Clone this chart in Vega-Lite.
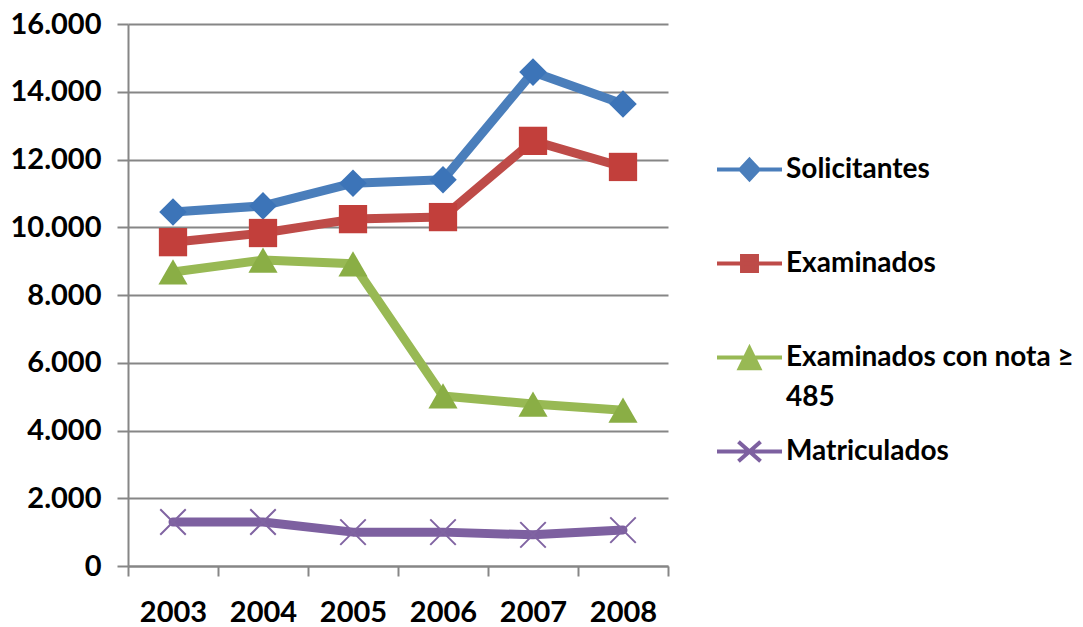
{
  "$schema": "https://vega.github.io/schema/vega-lite/v6.json",
  "width": 540,
  "height": 542,
  "autosize": {"type": "none"},
  "padding": {"left": 128, "top": 24, "right": 415, "bottom": 61},
  "background": "white",
  "config": {
    "view": {"stroke": null},
    "locale": {"number": {"decimal": ",", "thousands": ".", "grouping": [3], "currency": ["", " €"]}},
    "font": "Lato"
  },
  "data": {
    "values": [
      {"anio": "2003", "serie": "Solicitantes", "valor": 10450},
      {"anio": "2004", "serie": "Solicitantes", "valor": 10630},
      {"anio": "2005", "serie": "Solicitantes", "valor": 11300},
      {"anio": "2006", "serie": "Solicitantes", "valor": 11400},
      {"anio": "2007", "serie": "Solicitantes", "valor": 14580},
      {"anio": "2008", "serie": "Solicitantes", "valor": 13640},
      {"anio": "2003", "serie": "Examinados", "valor": 9560},
      {"anio": "2004", "serie": "Examinados", "valor": 9830},
      {"anio": "2005", "serie": "Examinados", "valor": 10240},
      {"anio": "2006", "serie": "Examinados", "valor": 10300},
      {"anio": "2007", "serie": "Examinados", "valor": 12550},
      {"anio": "2008", "serie": "Examinados", "valor": 11780},
      {"anio": "2003", "serie": "Examinados con nota ≥ 485", "valor": 8680},
      {"anio": "2004", "serie": "Examinados con nota ≥ 485", "valor": 9030},
      {"anio": "2005", "serie": "Examinados con nota ≥ 485", "valor": 8920},
      {"anio": "2006", "serie": "Examinados con nota ≥ 485", "valor": 5020},
      {"anio": "2007", "serie": "Examinados con nota ≥ 485", "valor": 4780},
      {"anio": "2008", "serie": "Examinados con nota ≥ 485", "valor": 4600},
      {"anio": "2003", "serie": "Matriculados", "valor": 1300},
      {"anio": "2004", "serie": "Matriculados", "valor": 1300},
      {"anio": "2005", "serie": "Matriculados", "valor": 1000},
      {"anio": "2006", "serie": "Matriculados", "valor": 1000},
      {"anio": "2007", "serie": "Matriculados", "valor": 920},
      {"anio": "2008", "serie": "Matriculados", "valor": 1060}
    ]
  },
  "encoding": {
    "x": {
      "field": "anio",
      "type": "ordinal",
      "bandPosition": 0.5,
      "scale": {"type": "band", "paddingInner": 0, "paddingOuter": 0},
      "axis": {
        "title": null,
        "labelAngle": 0,
        "labelFont": "Lato",
        "labelFontWeight": "bold",
        "labelFontSize": 29,
        "labelColor": "#000000",
        "labelPadding": 22,
        "tickBand": "extent",
        "tickSize": 10,
        "tickColor": "#868686",
        "tickWidth": 2,
        "domainColor": "#868686",
        "domainWidth": 2,
        "grid": false
      }
    },
    "y": {
      "field": "valor",
      "type": "quantitative",
      "scale": {"domain": [0, 16000], "nice": false},
      "axis": {
        "title": null,
        "values": [0, 2000, 4000, 6000, 8000, 10000, 12000, 14000, 16000],
        "format": ",.0f",
        "labelFont": "Lato",
        "labelFontWeight": "bold",
        "labelFontSize": 29,
        "labelColor": "#000000",
        "labelPadding": 16,
        "tickSize": 11,
        "tickColor": "#868686",
        "tickWidth": 2,
        "domainColor": "#868686",
        "domainWidth": 2,
        "grid": true,
        "gridColor": "#868686",
        "gridWidth": 2
      }
    }
  },
  "layer": [
    {
      "mark": {"type": "line", "strokeWidth": 9, "strokeJoin": "round", "strokeCap": "round"},
      "encoding": {
        "color": {
          "field": "serie",
          "type": "nominal",
          "scale": {
            "domain": ["Solicitantes", "Examinados", "Examinados con nota ≥ 485", "Matriculados"],
            "range": ["#4a7ebb", "#be4b48", "#98b954", "#7d60a0"]
          },
          "legend": {
            "title": null,
            "orient": "none",
            "legendX": 587,
            "legendY": 111,
            "gridAlign": "all",
            "rowPadding": 5,
            "labelFont": "Lato",
            "labelFontWeight": "bold",
            "labelFontSize": 28,
            "labelColor": "#000000",
            "labelOffset": 2,
            "labelLimit": 400,
            "symbolSize": 4225,
            "symbolStrokeWidth": 4,
            "labelExpr": "datum.label === 'Examinados con nota ≥ 485' ? ['Examinados con nota ≥', '485'] : datum.label",
            "encode": {
              "symbols": {
                "update": {
                  "shape": {"signal": "datum.value === 'Solicitantes' ? 'M-1,0L1,0M0,-0.3L0.28,0L0,0.3L-0.28,0Z' : datum.value === 'Examinados' ? 'M-1,0L1,0M-0.23,-0.23L0.23,-0.23L0.23,0.23L-0.23,0.23Z' : datum.value === 'Matriculados' ? 'M-1,0L1,0M-0.34,-0.3L0.34,0.3M-0.34,0.3L0.34,-0.3' : 'M-1,0L1,0M0,-0.28L0.3,0.33L-0.3,0.33Z'"},
                  "fill": {"signal": "scale('color', datum.value)"},
                  "fillOpacity": {"value": 1},
                  "stroke": {"signal": "scale('color', datum.value)"},
                  "strokeWidth": {"value": 4},
                  "opacity": {"value": 1}
                }
              },
              "labels": {
                "update": {"lineHeight": {"value": 40}}
              }
            }
          }
        }
      }
    },
    {
      "transform": [{"filter": {"field": "serie", "equal": "Solicitantes"}}],
      "mark": {"type": "point", "shape": "diamond", "filled": true, "opacity": 1, "size": 760, "color": "#3c74b8"}
    },
    {
      "transform": [{"filter": {"field": "serie", "equal": "Examinados"}}],
      "mark": {"type": "point", "shape": "square", "filled": true, "opacity": 1, "size": 800, "color": "#c23f3b"}
    },
    {
      "transform": [{"filter": {"field": "serie", "equal": "Examinados con nota ≥ 485"}}],
      "mark": {"type": "point", "shape": "triangle-up", "filled": true, "opacity": 1, "size": 850, "color": "#8aae45"}
    },
    {
      "transform": [{"filter": {"field": "serie", "equal": "Matriculados"}}],
      "mark": {"type": "point", "shape": "M-0.85,-0.85L0.85,0.85M-0.85,0.85L0.85,-0.85", "filled": false, "opacity": 1, "size": 900, "color": "#8064a2", "strokeWidth": 2}
    }
  ]
}
